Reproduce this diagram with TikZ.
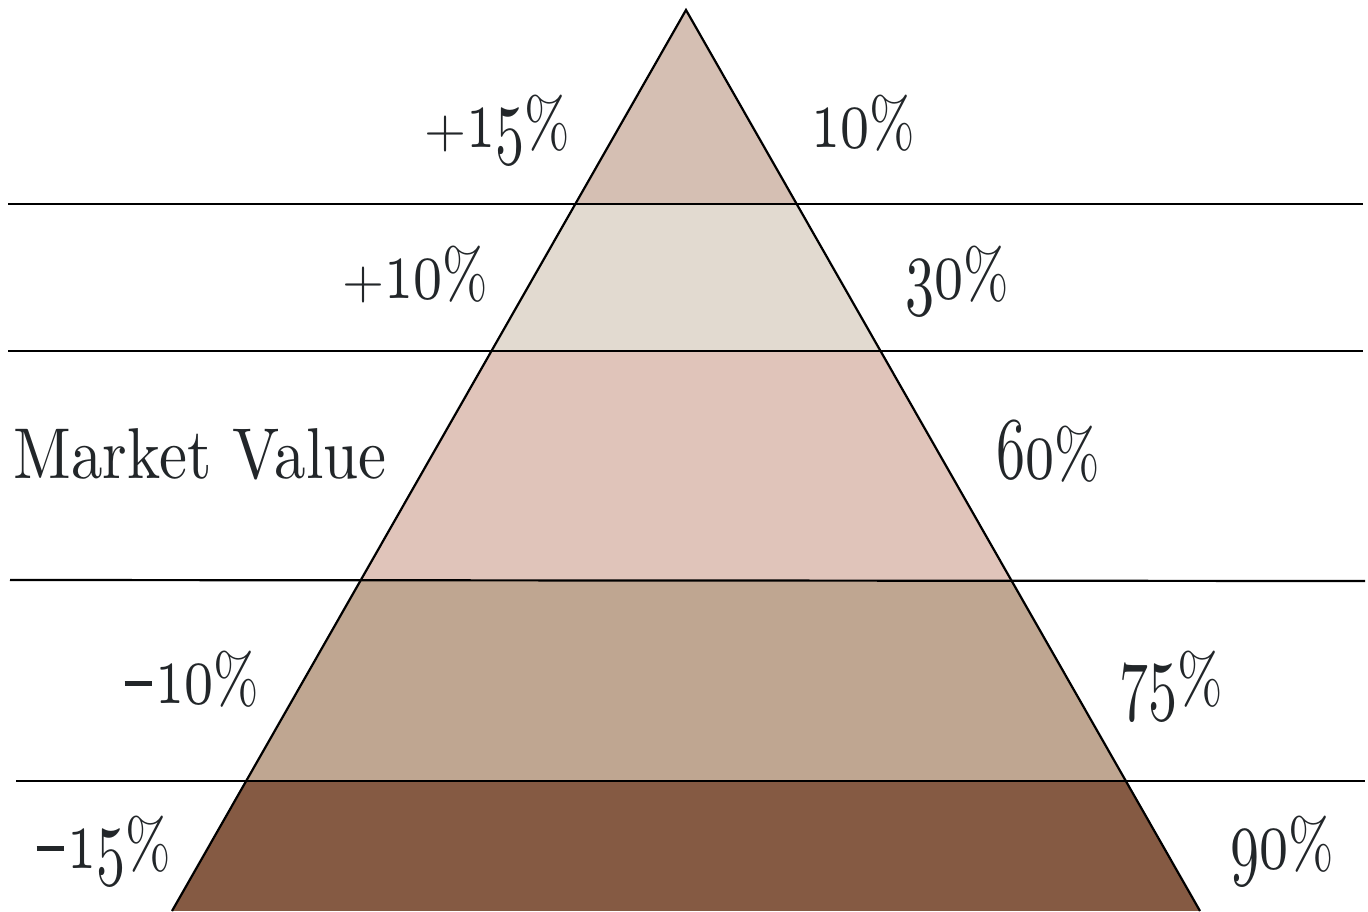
\documentclass[tikz,border=0pt]{standalone}
\usepackage{fontspec}
\newfontfamily\lmten{lmroman10-regular.otf}
\font\osfnum=cmmi10 at 88pt
\definecolor{bandA}{HTML}{D5BFB3}
\definecolor{bandB}{HTML}{E2DAD0}
\definecolor{bandC}{HTML}{E0C4BA}
\definecolor{bandD}{HTML}{BFA691}
\definecolor{bandE}{HTML}{855A43}
\definecolor{ink}{HTML}{222629}
\newcommand{\osn}[1]{\scalebox{0.66}[1]{\osfnum #1}}
\newcommand{\pct}{\scalebox{0.78}[1]{\fontsize{70}{72}\selectfont\%}}
\newcommand{\plussign}{{\fontsize{54}{56}\selectfont +}}
\newcommand{\minussign}{\rule[17pt]{27pt}{5pt}\hspace{4pt}}
\begin{document}
\begin{tikzpicture}[x=1pt,y=-1pt,
  lbl/.style={font=\lmten\fontsize{62}{64}\selectfont, text=ink, inner sep=0pt, anchor=base},
  rule/.style={line width=2.2pt, black}]
\useasboundingbox (0,0) rectangle (1368,911);
\coordinate (apex) at (686,10);
\coordinate (bl) at (172,911);
\coordinate (br) at (1200,911);
\begin{scope}
  \clip (apex) -- (bl) -- (br) -- cycle;
  \fill[bandA] (0,0) rectangle (1368,204);
  \fill[bandB] (0,204) rectangle (1368,351);
  \fill[bandC] (0,351) rectangle (1368,580);
  \fill[bandD] (0,580) rectangle (1368,781);
  \fill[bandE] (0,781) rectangle (1368,911);
\end{scope}
\coordinate (h1a) at (8,204);   \coordinate (h1b) at (1363,204);
\coordinate (h2a) at (8,351);   \coordinate (h2b) at (1363,351);
\coordinate (h3a) at (10,580);  \coordinate (h3b) at (1365,581);
\coordinate (h4a) at (16,781);  \coordinate (h4b) at (1365,781);
\draw[rule] (h1a) -- (h1b);
\draw[rule] (h2a) -- (h2b);
\draw[rule] (h3a) -- (h3b);
\draw[rule] (h4a) -- (h4b);
\draw[rule, line join=miter] (bl) -- (apex) -- (br);
% left labels
\node[lbl] (p15) at (497,147) {\plussign\osn{15}\pct};
\node[lbl] (p10) at (415,298) {\plussign\osn{10}\pct};
\node[lbl, font=\lmten\fontsize{72}{74}\selectfont] (mv) at (200,478) {\scalebox{0.875}[1]{Market Value}};
\node[lbl] (m10) at (192,703) {\minussign\osn{10}\pct};
\node[lbl] (m15) at (104,868) {\minussign\osn{15}\pct};
% right labels
\node[lbl] (r10) at (863,147) {\osn{10}\pct};
\node[lbl] (r30) at (957,298) {\osn{30}\pct};
\node[lbl] (r60) at (1048,478) {\osn{60}\pct};
\node[lbl] (r75) at (1171,703) {\osn{75}\pct};
\node[lbl] (r90) at (1282,868) {\osn{90}\pct};
\end{tikzpicture}
\end{document}
